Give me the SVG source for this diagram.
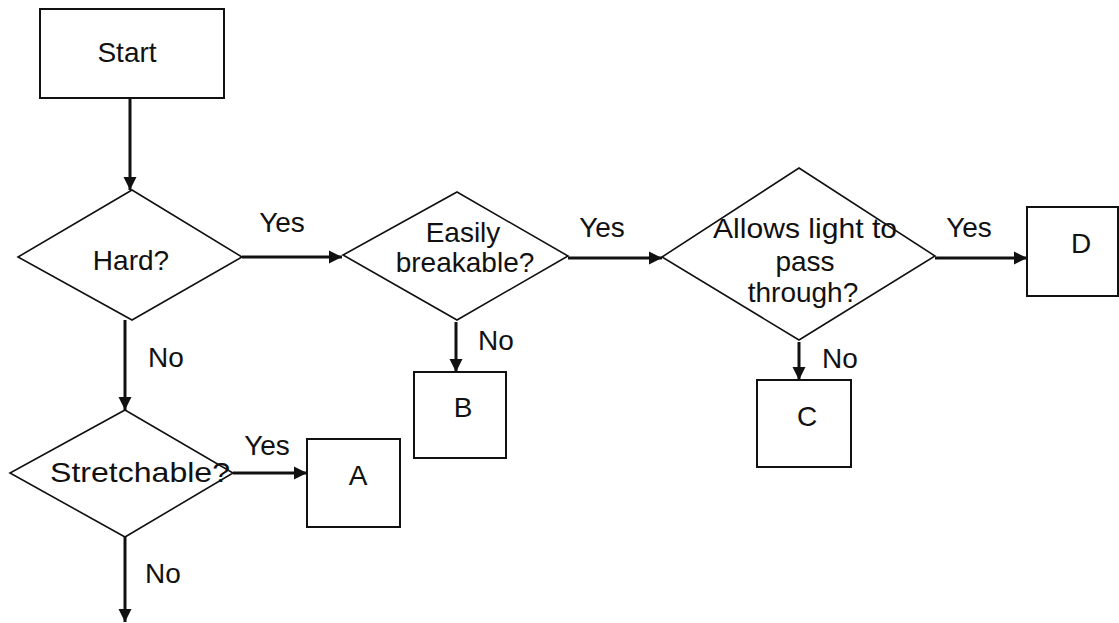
<svg xmlns="http://www.w3.org/2000/svg" width="1119" height="623" viewBox="0 0 1119 623">
<style>
.box{fill:#fff;stroke:#111;stroke-width:2}
.dia{fill:#fff;stroke:#111;stroke-width:1.6}
.t{font-family:"Liberation Sans",Arial,sans-serif;font-size:28px;fill:#111;text-anchor:middle}
.c{stroke:#111;stroke-width:3;fill:none;marker-end:url(#ah)}
</style>
<defs>
<marker id="ah" viewBox="0 0 10 10" refX="10" refY="5" markerWidth="4.5" markerHeight="4.5" markerUnits="strokeWidth" orient="auto">
<path d="M0,0 L10,5 L0,10 z" fill="#111"/>
</marker>
</defs>
<rect width="1119" height="623" fill="#fff"/>
<g id="connectors">
<line class="c" x1="130" y1="98" x2="130" y2="190"/>
<line class="c" x1="242" y1="257" x2="342" y2="257"/>
<line class="c" x1="568" y1="258" x2="662" y2="258"/>
<line class="c" x1="935" y1="258" x2="1027" y2="258"/>
<line class="c" x1="456" y1="322" x2="456" y2="372"/>
<line class="c" x1="799" y1="342" x2="799" y2="380"/>
<line class="c" x1="125" y1="320" x2="125" y2="410"/>
<line class="c" x1="233" y1="473" x2="307" y2="473"/>
<line class="c" x1="125" y1="537" x2="125" y2="622"/>
<text class="t" x="282" y="232">Yes</text>
<text class="t" x="602" y="237">Yes</text>
<text class="t" x="969" y="237">Yes</text>
<text class="t" x="496" y="350">No</text>
<text class="t" x="840" y="368">No</text>
<text class="t" x="166" y="367">No</text>
<text class="t" x="267" y="455">Yes</text>
<text class="t" x="163" y="583">No</text>
</g>
<g id="start">
<rect class="box" x="40" y="9" width="184" height="89"/>
<text class="t" x="127" y="62">Start</text>
</g>
<g id="hard">
<polygon class="dia" points="132,190 242,257 132,320 18,257"/>
<text class="t" x="131" y="270">Hard?</text>
</g>
<g id="breakable">
<polygon class="dia" points="457,192 568,256 457,320 343,255"/>
<text class="t" x="463" y="242">Easily</text>
<text class="t" x="465" y="272">breakable?</text>
</g>
<g id="light">
<polygon class="dia" points="799,168 935,256 799,340 662,257"/>
<text class="t" x="805" y="238" textLength="184" lengthAdjust="spacingAndGlyphs">Allows light to</text>
<text class="t" x="805" y="271">pass</text>
<text class="t" x="803" y="302">through?</text>
</g>
<g id="stretchable">
<polygon class="dia" points="125,410 233,473 125,537 10,473"/>
<text class="t" x="140" y="482" textLength="180" lengthAdjust="spacingAndGlyphs">Stretchable?</text>
</g>
<g id="a">
<rect class="box" x="307" y="439" width="93" height="88"/>
<text class="t" x="358" y="485">A</text>
</g>
<g id="b">
<rect class="box" x="414" y="372" width="92" height="86"/>
<text class="t" x="463" y="417">B</text>
</g>
<g id="c">
<rect class="box" x="757" y="380" width="94" height="87"/>
<text class="t" x="807" y="426">C</text>
</g>
<g id="d">
<rect class="box" x="1027" y="207" width="91" height="89"/>
<text class="t" x="1081" y="253">D</text>
</g>
</svg>
